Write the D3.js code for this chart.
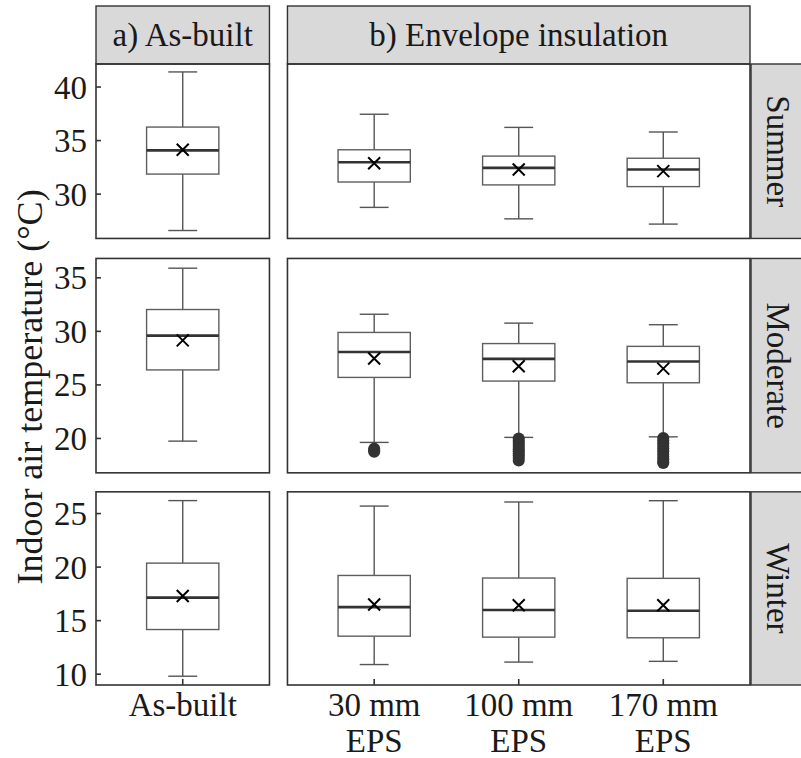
<!DOCTYPE html>
<html>
<head>
<meta charset="utf-8">
<script src="https://cdn.jsdelivr.net/npm/d3@7"></script>
<style>
  html, body { margin: 0; padding: 0; background: #fff; }
  svg { display: block; font-family: "Liberation Serif", "Times New Roman", serif; }
</style>
</head>
<body>
<svg id="chart" width="801" height="758"></svg>
<script>
// Facet rows (seasons) and columns (scenario groups)
const seasons = ["Summer", "Moderate", "Winter"];
const groupTitles = ["a) As-built", "b) Envelope insulation"];
const groupCases = [["As-built"], ["30 mm EPS", "100 mm EPS", "170 mm EPS"]];
const caseLabels = {
  "As-built": ["As-built"],
  "30 mm EPS": ["30 mm", "EPS"],
  "100 mm EPS": ["100 mm", "EPS"],
  "170 mm EPS": ["170 mm", "EPS"]
};
const cases = ["As-built", "30 mm EPS", "100 mm EPS", "170 mm EPS"];

// Box statistics per season (rows) and case (columns), °C
const whiskerLow  = [[26.6, 28.76, 27.69, 27.2], [19.75, 19.63, 20.1, 20.15], [9.81, 10.9, 11.13, 11.2]];
const quartile1   = [[31.87, 31.13, 30.86, 30.7], [26.4, 25.7, 25.36, 25.2], [14.17, 13.55, 13.46, 13.4]];
const medians     = [[34.08, 32.97, 32.45, 32.3], [29.6, 28.08, 27.43, 27.18], [17.15, 16.26, 16.0, 15.93]];
const quartile3   = [[36.26, 34.14, 33.55, 33.35], [32.04, 29.9, 28.86, 28.6], [20.37, 19.22, 18.98, 18.95]];
const whiskerHigh = [[41.41, 37.46, 36.23, 35.8], [35.9, 31.6, 30.77, 30.62], [26.21, 25.7, 26.08, 26.2]];
const means       = [[34.14, 32.88, 32.3, 32.15], [29.16, 27.46, 26.75, 26.52], [17.3, 16.5, 16.43, 16.43]];

// Outliers (moderate season only)
const outliersModerate30  = [19.05, 18.9, 18.76];
const outliersModerate100 = [20.0, 19.8, 19.6, 19.4, 19.2, 19.0, 18.8, 18.6, 18.4, 18.2, 17.95];
const outliersModerate170 = [20.05, 19.8, 19.55, 19.3, 19.05, 18.8, 18.55, 18.3, 18.05, 17.8, 17.7];
const outliers = [
  [[], [], [], []],
  [[], outliersModerate30, outliersModerate100, outliersModerate170],
  [[], [], [], []]
];

// Y tick labels per row
const yTicks = [[30, 35, 40], [20, 25, 30, 35], [10, 15, 20, 25]];

const yTitle = "Indoor air temperature (°C)";

(function draw() {
  const svg = d3.select("#chart");
  const FONT = 33;
  const plotLeft = 96, plotRight = 750, plotTop = 64, plotBottom = 685;
  const colGap = 18, rowGap = [20, 19];
  const stripTop = 6, stripRightW = 60;

  // free y scales with 5% expansion, heights proportional to ranges
  const rowDomains = seasons.map((s, i) => {
    const vals = [].concat(whiskerLow[i], whiskerHigh[i], means[i], ...outliers[i]);
    const [lo, hi] = d3.extent(vals);
    const pad = (hi - lo) * 0.05;
    return [lo - pad, hi + pad];
  });
  const spans = rowDomains.map(d => d[1] - d[0]);
  const availH = plotBottom - plotTop - d3.sum(rowGap);
  const pxPerUnit = availH / d3.sum(spans);
  let yCursor = plotTop;
  const rows = rowDomains.map((dom, i) => {
    const h = spans[i] * pxPerUnit;
    const r = { y0: yCursor, y1: yCursor + h };
    yCursor += h + (rowGap[i] || 0);
    r.scale = d3.scaleLinear().domain(dom).range([r.y1, r.y0]);
    return r;
  });

  // free x space: width proportional to (n - 1 + 1.2)
  const units = groupCases.map(g => g.length - 1 + 1.2);
  const availW = plotRight - plotLeft - colGap;
  let xCursor = plotLeft;
  const cols = groupCases.map((g, j) => {
    const w = availW * units[j] / d3.sum(units);
    const c = { x0: xCursor, x1: xCursor + w };
    xCursor += w + colGap;
    c.scale = d3.scalePoint().domain(g).range([c.x0, c.x1]).padding(0.6);
    return c;
  });

  const borderCol = "#333333";
  const stripFill = "#d9d9d9";

  // top strips
  cols.forEach((c, j) => {
    svg.append("rect").attr("x", c.x0).attr("y", stripTop)
      .attr("width", c.x1 - c.x0).attr("height", plotTop - stripTop)
      .attr("fill", stripFill).attr("stroke", borderCol).attr("stroke-width", 1.4);
    svg.append("text").attr("x", (c.x0 + c.x1) / 2).attr("y", 46)
      .attr("text-anchor", "middle").attr("font-size", FONT).attr("fill", "#1a1a1a")
      .text(groupTitles[j]);
  });

  // right strips
  rows.forEach((r, i) => {
    svg.append("rect").attr("x", plotRight + 1).attr("y", r.y0)
      .attr("width", stripRightW).attr("height", r.y1 - r.y0)
      .attr("fill", stripFill).attr("stroke", borderCol).attr("stroke-width", 1.4);
    svg.append("text")
      .attr("transform", `translate(${plotRight + 17},${(r.y0 + r.y1) / 2}) rotate(90)`)
      .attr("text-anchor", "middle").attr("font-size", FONT).attr("fill", "#1a1a1a")
      .text(seasons[i]);
  });

  // panels
  rows.forEach((r, i) => {
    cols.forEach((c, j) => {
      const g = svg.append("g");
      const y = r.scale, x = c.scale;
      const step = x.step();
      const boxW = step * 0.5, capW = step * 0.2;

      // y axis ticks on the left column
      if (j === 0) {
        yTicks[i].forEach(t => {
          g.append("line").attr("x1", c.x0).attr("x2", c.x0 + 5)
            .attr("y1", y(t)).attr("y2", y(t)).attr("stroke", borderCol).attr("stroke-width", 1.6);
          g.append("text").attr("x", c.x0 - 9).attr("y", y(t))
            .attr("dy", "0.35em").attr("text-anchor", "end")
            .attr("font-size", FONT).attr("fill", "#1a1a1a").text(t);
        });
      }
      // x ticks + labels on the bottom row
      if (i === rows.length - 1) {
        groupCases[j].forEach(k => {
          g.append("line").attr("x1", x(k)).attr("x2", x(k))
            .attr("y1", r.y1).attr("y2", r.y1 - 6).attr("stroke", borderCol).attr("stroke-width", 1.6);
          const t = g.append("text").attr("x", x(k)).attr("y", 716)
            .attr("text-anchor", "middle").attr("font-size", FONT).attr("fill", "#1a1a1a");
          caseLabels[k].forEach((line, li) => {
            t.append("tspan").attr("x", x(k)).attr("dy", li === 0 ? 0 : 36).text(line);
          });
        });
      }

      groupCases[j].forEach(k => {
        const ci = cases.indexOf(k);
        const cx = x(k);
        const lo = whiskerLow[i][ci], q1 = quartile1[i][ci], md = medians[i][ci],
              q3 = quartile3[i][ci], hi = whiskerHigh[i][ci], mn = means[i][ci];
        const wc = "#555555";
        // whiskers
        g.append("line").attr("x1", cx).attr("x2", cx).attr("y1", y(hi)).attr("y2", y(q3))
          .attr("stroke", wc).attr("stroke-width", 1.4);
        g.append("line").attr("x1", cx).attr("x2", cx).attr("y1", y(q1)).attr("y2", y(lo))
          .attr("stroke", wc).attr("stroke-width", 1.4);
        [hi, lo].forEach(v => {
          g.append("line").attr("x1", cx - capW / 2).attr("x2", cx + capW / 2)
            .attr("y1", y(v)).attr("y2", y(v)).attr("stroke", wc).attr("stroke-width", 1.4);
        });
        // box
        g.append("rect").attr("x", cx - boxW / 2).attr("y", y(q3))
          .attr("width", boxW).attr("height", y(q1) - y(q3))
          .attr("fill", "#fff").attr("stroke", "#5e5e5e").attr("stroke-width", 1.4);
        // median
        g.append("line").attr("x1", cx - boxW / 2).attr("x2", cx + boxW / 2)
          .attr("y1", y(md)).attr("y2", y(md)).attr("stroke", "#333").attr("stroke-width", 2.6);
        // outliers
        outliers[i][ci].forEach(v => {
          g.append("circle").attr("cx", cx).attr("cy", y(v)).attr("r", 6).attr("fill", "#333");
        });
        // mean marker
        const s = 6, my = y(mn);
        g.append("path")
          .attr("d", `M${cx - s},${my - s}L${cx + s},${my + s}M${cx - s},${my + s}L${cx + s},${my - s}`)
          .attr("stroke", "#000").attr("stroke-width", 2).attr("fill", "none");
      });

      // panel border
      g.append("rect").attr("x", c.x0).attr("y", r.y0)
        .attr("width", c.x1 - c.x0).attr("height", r.y1 - r.y0)
        .attr("fill", "none").attr("stroke", borderCol).attr("stroke-width", 1.6);
    });
  });

  // y axis title
  svg.append("text")
    .attr("transform", `translate(42,387) rotate(-90)`)
    .attr("text-anchor", "middle").attr("font-size", 36).attr("fill", "#1a1a1a")
    .text(yTitle);
})();
</script>
</body>
</html>
